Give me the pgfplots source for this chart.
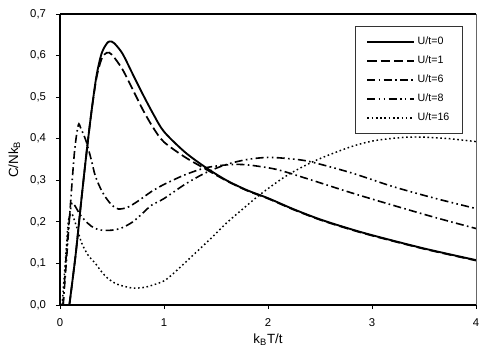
\documentclass[border=0pt]{standalone}
\usepackage{fontspec}
\setmainfont{Liberation Sans}
\usepackage{pgfplots}
\pgfplotsset{compat=1.18}

\begin{document}
\begin{tikzpicture}
\begin{axis}[
    scale only axis,
    width=312pt, height=218.25pt,
    xmin=0, xmax=4, ymin=0, ymax=0.7,
    axis x line*=bottom, axis y line*=left,
    axis line style={-, black, line width=0.8pt},
    xtick={0,1,2,3,4}, ytick={0,0.1,...,0.7},
    tick align=outside, major tick length=3pt,
    tick style={black, line width=0.6pt},
    every tick label/.append style={font=\fontsize{8.5}{10}\selectfont},
    /pgf/number format/assume math mode=true,
    /pgf/number format/use comma,
    yticklabel style={/pgf/number format/fixed, /pgf/number format/precision=1, /pgf/number format/fixed zerofill, xshift=-4pt},
    xticklabel style={yshift=-4pt},
    xlabel={k\textsubscript{B}T/t},
    ylabel={C/Nk\textsubscript{B}},
    label style={font=\fontsize{10}{12}\selectfont},
    every axis x label/.style={at={(axis description cs:0.5,-0.12)}, anchor=center},
    every axis y label/.style={at={(axis description cs:-0.11,0.5)}, anchor=center, rotate=90},
    legend style={at={(rel axis cs:0.969,0.959)}, anchor=north east,
        draw=black!80, line width=0.6pt, inner xsep=8pt, inner ysep=6pt,
        font=\fontsize{8}{9.5}\selectfont, row sep=3pt},
    legend cell align=left,
    legend image code/.code={\draw[#1] (0pt,0pt) -- (35pt,0pt);},
]
\coordinate (bl) at (rel axis cs:0,0);
\coordinate (tr) at (rel axis cs:1,1);

% U/t=0
\addplot[black, line width=1.4pt, smooth] coordinates {
(0.09,0) (0.15,0.12) (0.2,0.24) (0.25,0.355) (0.3,0.46) (0.35,0.55) (0.4,0.605)
(0.45,0.629) (0.48,0.634) (0.52,0.63) (0.6,0.605) (0.7,0.555) (0.8,0.505)
(0.9,0.458) (1.0,0.417) (1.2,0.368) (1.4,0.331) (1.6,0.3) (1.8,0.276)
(2.0,0.257) (2.25,0.23) (2.5,0.206) (2.75,0.186) (3.0,0.168) (3.5,0.136) (4.0,0.108)
};
% U/t=1
\addplot[black, line width=1.3pt, dash pattern=on 7pt off 3pt, smooth] coordinates {
(0.09,0) (0.15,0.12) (0.2,0.24) (0.25,0.355) (0.3,0.46) (0.35,0.545) (0.4,0.592)
(0.45,0.607) (0.5,0.602) (0.6,0.567) (0.7,0.518) (0.8,0.468) (0.9,0.425)
(1.0,0.392) (1.2,0.356) (1.4,0.327) (1.6,0.299) (1.8,0.275)
(2.0,0.256) (2.25,0.229) (2.5,0.205) (2.75,0.185) (3.0,0.167) (3.5,0.135) (4.0,0.107)
};
% U/t=6
\addplot[black, line width=1.2pt, dash pattern=on 6pt off 2.5pt on 1.2pt off 2.5pt, smooth] coordinates {
(0.03,0) (0.06,0.1) (0.1,0.24) (0.14,0.37) (0.176,0.433) (0.2,0.425) (0.25,0.395)
(0.3,0.35) (0.34,0.31) (0.4,0.275) (0.45,0.255) (0.5,0.24) (0.56,0.231)
(0.65,0.235) (0.75,0.25) (0.88,0.273) (1.0,0.29) (1.2,0.313) (1.4,0.33)
(1.6,0.337) (1.75,0.338) (1.9,0.334) (2.1,0.325) (2.4,0.302) (2.8,0.27)
(3.2,0.24) (3.6,0.211) (4.0,0.184)
};
% U/t=8
\addplot[black, line width=1.2pt, dash pattern=on 6pt off 2.5pt on 1.2pt off 2.5pt on 1.2pt off 2.5pt, smooth] coordinates {
(0.03,0) (0.06,0.12) (0.09,0.21) (0.115,0.245) (0.14,0.24) (0.2,0.215)
(0.27,0.196) (0.33,0.185) (0.4,0.18) (0.5,0.18) (0.59,0.185) (0.7,0.2)
(0.8,0.222) (0.88,0.24) (1.0,0.256) (1.2,0.29) (1.4,0.318) (1.6,0.338)
(1.8,0.35) (2.0,0.355) (2.2,0.352) (2.4,0.345) (2.8,0.318) (3.2,0.285)
(3.6,0.257) (4.0,0.232)
};
% U/t=16
\addplot[black, line width=1.1pt, dash pattern=on 1.2pt off 2pt, smooth] coordinates {
(0.02,0) (0.05,0.1) (0.08,0.2) (0.11,0.22) (0.13,0.21) (0.17,0.18) (0.21,0.148)
(0.27,0.12) (0.34,0.1) (0.4,0.08) (0.46,0.064) (0.55,0.05) (0.69,0.041)
(0.8,0.042) (0.88,0.047) (1.0,0.058) (1.1,0.078) (1.28,0.12) (1.45,0.16)
(1.6,0.197) (1.8,0.24) (1.92,0.265) (2.1,0.298) (2.24,0.32) (2.47,0.349)
(2.79,0.38) (3.04,0.396) (3.37,0.404) (3.7,0.401) (4.0,0.393)
};
\legend{U/t=0, U/t=1, U/t=6, U/t=8, U/t=16}
\end{axis}
\draw[black, line width=0.8pt] (bl |- tr) -- (tr);
\draw[black!60, line width=0.6pt] (tr) -- (tr |- bl);
\path ([xshift=-45pt,yshift=-38.25pt]bl) rectangle ([xshift=11.25pt,yshift=10.5pt]tr);
\end{tikzpicture}
\end{document}
